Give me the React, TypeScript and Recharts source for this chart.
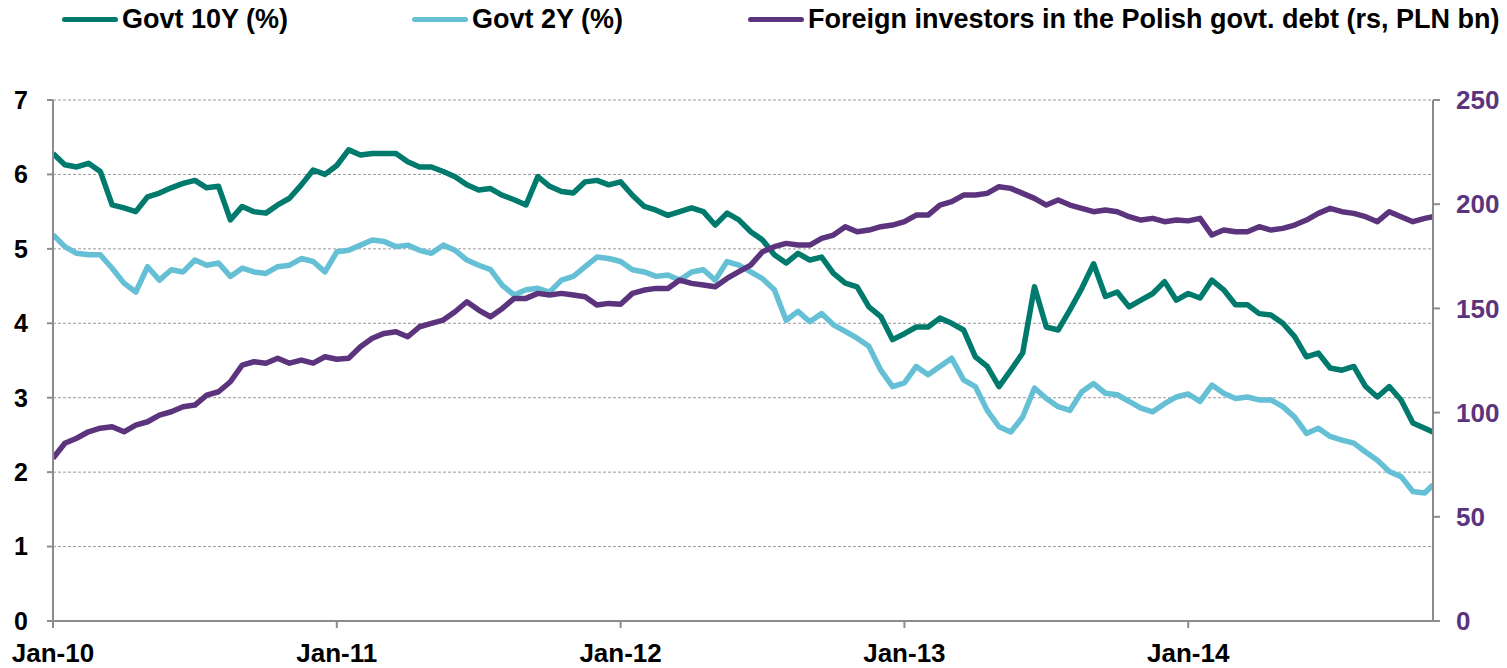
import React from "react";
import {
  LineChart, Line, XAxis, YAxis, CartesianGrid,
} from "recharts";

// x position of each reading, in months since Jan-10 (half-month steps, last obs ~10 Nov 2014)
const obsMonth: number[] = Array.from({ length: 117 }, (_, i) => i / 2).concat([58.35]);

// Govt 10Y yield (%)
const govt10y = [
  6.28, 6.13, 6.10, 6.15, 6.04, 5.59, 5.55, 5.50, 5.70, 5.75, 5.82, 5.88,
  5.92, 5.82, 5.84, 5.39, 5.57, 5.50, 5.48, 5.59, 5.68, 5.86, 6.06, 6.00,
  6.12, 6.33, 6.26, 6.28, 6.28, 6.28, 6.17, 6.10, 6.10, 6.04, 5.97, 5.86,
  5.79, 5.81, 5.72, 5.66, 5.59, 5.97, 5.84, 5.77, 5.75, 5.90, 5.92, 5.86,
  5.90, 5.72, 5.57, 5.52, 5.45, 5.50, 5.55, 5.50, 5.32, 5.48, 5.39, 5.23,
  5.12, 4.92, 4.81, 4.94, 4.85, 4.89, 4.67, 4.54, 4.49, 4.22, 4.09, 3.78,
  3.86, 3.95, 3.95, 4.07, 4.00, 3.91, 3.55, 3.42, 3.15, 3.37, 3.60, 4.49,
  3.95, 3.91, 4.18, 4.47, 4.80, 4.36, 4.42, 4.22, 4.31, 4.40, 4.56, 4.31,
  4.40, 4.34, 4.58, 4.45, 4.25, 4.25, 4.13, 4.11, 4.00, 3.82, 3.55, 3.60,
  3.40, 3.37, 3.42, 3.15, 3.01, 3.15, 2.97, 2.66, 2.59, 2.54,
];

// Govt 2Y yield (%)
const govt2y = [
  5.19, 5.03, 4.94, 4.92, 4.92, 4.74, 4.54, 4.42, 4.76, 4.58, 4.72, 4.69,
  4.85, 4.78, 4.81, 4.63, 4.74, 4.69, 4.67, 4.76, 4.78, 4.87, 4.83, 4.69,
  4.96, 4.98, 5.05, 5.12, 5.10, 5.03, 5.05, 4.98, 4.94, 5.05, 4.98, 4.85,
  4.78, 4.72, 4.51, 4.38, 4.45, 4.47, 4.42, 4.58, 4.63, 4.76, 4.89, 4.87,
  4.83, 4.72, 4.69, 4.63, 4.65, 4.58, 4.69, 4.72, 4.58, 4.83, 4.78, 4.69,
  4.60, 4.45, 4.04, 4.16, 4.02, 4.13, 3.98, 3.89, 3.80, 3.69, 3.37, 3.15,
  3.20, 3.42, 3.31, 3.42, 3.53, 3.24, 3.15, 2.83, 2.61, 2.54, 2.74, 3.13,
  2.99, 2.88, 2.83, 3.08, 3.19, 3.06, 3.04, 2.95, 2.86, 2.81, 2.92, 3.01,
  3.05, 2.95, 3.17, 3.06, 2.99, 3.01, 2.97, 2.97, 2.88, 2.74, 2.52, 2.59,
  2.48, 2.43, 2.39, 2.27, 2.16, 2.01, 1.94, 1.74, 1.72, 1.83,
];

// Foreign investors in Polish govt. debt (PLN bn, right scale)
const foreignHoldings = [
  78.1, 85.3, 87.7, 90.8, 92.5, 93.2, 90.8, 94.0, 95.6, 98.8, 100.4, 102.8,
  103.6, 108.4, 110.0, 114.8, 122.8, 124.4, 123.7, 126.1, 123.7, 125.2, 123.7, 126.8,
  125.6, 126.1, 131.6, 135.7, 138.0, 138.8, 136.4, 141.2, 142.8, 144.4, 148.4, 153.2,
  149.2, 146.0, 150.0, 154.8, 154.8, 157.2, 156.4, 157.2, 156.4, 155.6, 151.6, 152.4,
  152.0, 157.2, 158.8, 159.6, 159.6, 163.6, 162.0, 161.2, 160.4, 164.4, 167.6, 170.8,
  177.2, 179.6, 181.2, 180.4, 180.4, 183.6, 185.2, 189.2, 186.8, 187.6, 189.2, 190.0,
  191.6, 194.8, 194.8, 199.6, 201.2, 204.4, 204.4, 205.2, 208.4, 207.6, 205.2, 202.8,
  199.6, 202.0, 199.6, 198.0, 196.4, 197.2, 196.4, 194.0, 192.4, 193.2, 191.6, 192.4,
  192.0, 193.2, 185.2, 187.6, 186.8, 186.8, 189.2, 187.6, 188.4, 190.0, 192.4, 195.6,
  198.0, 196.4, 195.6, 194.0, 191.6, 196.4, 194.0, 191.6, 193.2, 194.0,
];

const xTickMonths = [0, 12, 24, 36, 48];
const xTickLabels = ["Jan-10", "Jan-11", "Jan-12", "Jan-13", "Jan-14"];
const leftTicks = [0, 1, 2, 3, 4, 5, 6, 7];
const rightTicks = [0, 50, 100, 150, 200, 250];

const C10 = "#007a6c";
const C2 = "#65c0d5";
const CFOR = "#5c347d";
const AXIS = "#8c8c8c";
const FONT = "'Liberation Sans', Arial, sans-serif";

const rows = obsMonth.map((t, i) => ({
  t,
  y10: govt10y[i],
  y2: govt2y[i],
  foreign: foreignHoldings[i],
}));

const legendItems = [
  { label: "Govt 10Y (%)", color: C10, x: 62 },
  { label: "Govt 2Y (%)", color: C2, x: 412 },
  { label: "Foreign investors in the Polish govt. debt (rs, PLN bn)", color: CFOR, x: 748 },
];

export default function App() {
  return (
    <div style={{ position: "absolute", left: 0, top: 0, width: 1507, height: 668, fontFamily: FONT, background: "#fff" }}>
      {legendItems.map((it) => (
        <div
          key={it.label}
          style={{ position: "absolute", left: it.x, top: 4, display: "flex", alignItems: "center", height: 30 }}
        >
          <div style={{ width: 56, height: 5, borderRadius: 3, background: it.color, marginRight: 4 }} />
          <span style={{ fontSize: 27, fontWeight: 700, color: "#000", whiteSpace: "nowrap" }}>{it.label}</span>
        </div>
      ))}
      <LineChart
        width={1507}
        height={668}
        data={rows}
        margin={{ top: 100, right: 0, left: 0, bottom: 0 }}
        style={{ position: "absolute", left: 0, top: 0 }}
      >
        <CartesianGrid
          yAxisId="left"
          vertical={false}
          stroke="#9a9a9a"
          strokeDasharray="3 2"
        />
        <XAxis
          dataKey="t"
          type="number"
          domain={[0, 58.35]}
          ticks={xTickMonths}
          tickFormatter={(v: number) => xTickLabels[xTickMonths.indexOf(v)] ?? ""}
          axisLine={{ stroke: AXIS, strokeWidth: 2 }}
          tickLine={{ stroke: AXIS, strokeWidth: 2 }}
          tickSize={7}
          tickMargin={16}
          height={47}
          tick={{ fontSize: 26, fontWeight: 700, fill: "#000", fontFamily: FONT }}
          allowDataOverflow
        />
        <YAxis
          yAxisId="left"
          domain={[0, 7]}
          ticks={leftTicks}
          width={53}
          axisLine={{ stroke: AXIS, strokeWidth: 2 }}
          tickLine={{ stroke: AXIS, strokeWidth: 2 }}
          tickSize={6}
          tickMargin={19}
          tick={{ fontSize: 25, fontWeight: 700, fill: "#000", fontFamily: FONT }}
        />
        <YAxis
          yAxisId="right"
          orientation="right"
          domain={[0, 250]}
          ticks={rightTicks}
          width={74}
          axisLine={{ stroke: AXIS, strokeWidth: 2 }}
          tickLine={{ stroke: AXIS, strokeWidth: 2 }}
          tickSize={7}
          tickMargin={16}
          tick={{ fontSize: 26, fontWeight: 700, fill: CFOR, fontFamily: FONT }}
        />
        <Line
          yAxisId="left"
          dataKey="y10"
          stroke={C10}
          strokeWidth={5.5}
          dot={false}
          strokeLinejoin="round"
          isAnimationActive={false}
        />
        <Line
          yAxisId="left"
          dataKey="y2"
          stroke={C2}
          strokeWidth={5.5}
          dot={false}
          strokeLinejoin="round"
          isAnimationActive={false}
        />
        <Line
          yAxisId="right"
          dataKey="foreign"
          stroke={CFOR}
          strokeWidth={5.5}
          dot={false}
          strokeLinejoin="round"
          isAnimationActive={false}
        />
      </LineChart>
    </div>
  );
}
